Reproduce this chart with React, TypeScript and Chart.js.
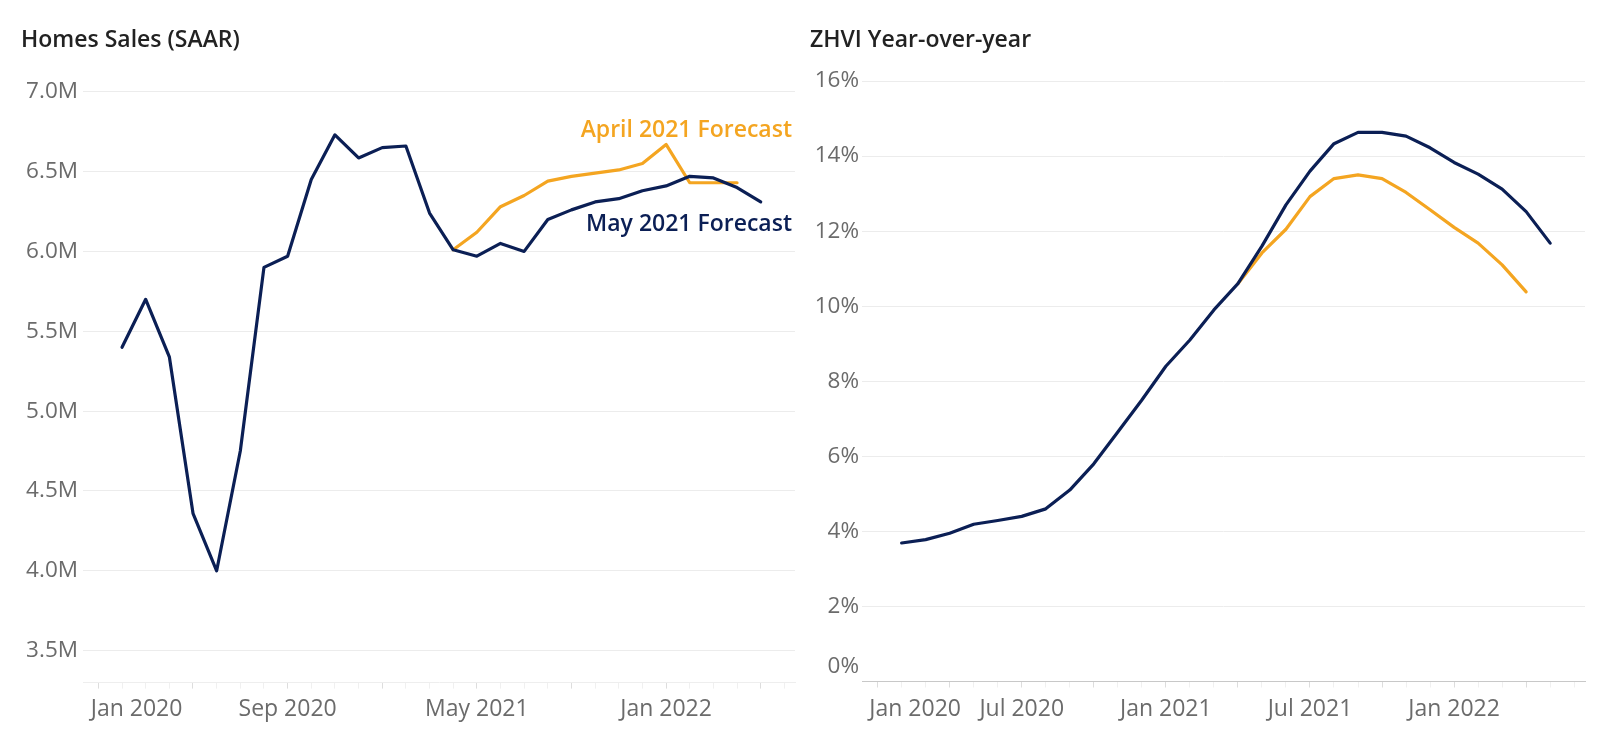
import React, { useEffect, useRef } from "react";
import { Chart, registerables } from "chart.js";

Chart.register(...registerables);

// ---------- Data ----------
const MONTHS = [
  "Jan 2020", "Feb 2020", "Mar 2020", "Apr 2020", "May 2020", "Jun 2020",
  "Jul 2020", "Aug 2020", "Sep 2020", "Oct 2020", "Nov 2020", "Dec 2020",
  "Jan 2021", "Feb 2021", "Mar 2021", "Apr 2021", "May 2021", "Jun 2021",
  "Jul 2021", "Aug 2021", "Sep 2021", "Oct 2021", "Nov 2021", "Dec 2021",
  "Jan 2022", "Feb 2022", "Mar 2022", "Apr 2022",
];

// Home sales, SAAR, millions
const SALES_MAY_FORECAST = [
  5.40, 5.70, 5.34, 4.36, 4.00, 4.75, 5.90, 5.97, 6.45, 6.73, 6.585, 6.65, 6.66, 6.24,
  6.01, 5.97, 6.05, 6.00, 6.20, 6.26, 6.31, 6.33, 6.38, 6.41, 6.47, 6.46, 6.40, 6.31,
];
const SALES_APRIL_FORECAST = [
  null, null, null, null, null, null, null, null, null, null, null, null, null, null,
  6.01, 6.12, 6.28, 6.35, 6.44, 6.47, 6.49, 6.51, 6.55, 6.67, 6.43, 6.43, 6.43, null,
];

// ZHVI year-over-year, %
const ZHVI_MAY_FORECAST = [
  3.69, 3.78, 3.95, 4.19, 4.29, 4.40, 4.60, 5.10, 5.80, 6.65, 7.50, 8.40, 9.10, 9.90,
  10.60, 11.60, 12.70, 13.60, 14.33, 14.63, 14.63, 14.53, 14.22, 13.83, 13.52, 13.12, 12.52, 11.68,
];
const ZHVI_APRIL_FORECAST = [
  null, null, null, null, null, null, null, null, null, null, null, null, null, null,
  10.60, 11.42, 12.05, 12.92, 13.40, 13.50, 13.40, 13.03, 12.57, 12.10, 11.68, 11.10, 10.38, null,
];

const SALES_Y_TICKS = [3.5, 4.0, 4.5, 5.0, 5.5, 6.0, 6.5, 7.0];
const ZHVI_Y_TICKS = [0, 2, 4, 6, 8, 10, 12, 14, 16];
const SALES_X_LABELS = ["Jan 2020", "Sep 2020", "May 2021", "Jan 2022"];
const ZHVI_X_LABELS = ["Jan 2020", "Jul 2020", "Jan 2021", "Jul 2021", "Jan 2022"];

const SERIES_NAMES = ["May 2021 Forecast", "April 2021 Forecast"];

// ---------- Style ----------
const NAVY = "#0b1f55";
const ORANGE = "#f4a521";
const GREY_TEXT = "#6b6b6b";
const TITLE_TEXT = "#222222";
const GRID = "#ececec";
const FONT = '"Open Sans", "Noto Sans", sans-serif';

type Spec = {
  title: string;
  titleX: number;
  may: (number | null)[];
  april: (number | null)[];
  yMin: number;
  yMax: number;
  yTicks: number[];
  yFormat: (v: number) => string;
  yWidth: number;
  yPad: number;
  padTop: number;
  padRight: number;
  xHeight: number;
  xLabels: string[];
  majorEvery: number;
  firstLabelShift: number;
  baselineColor: string;
  zeroLabel: boolean;
  annotations: boolean;
};

function toPoints(arr: (number | null)[]) {
  return arr
    .map((y, i) => (y == null ? null : { x: i + 1, y }))
    .filter((p) => p !== null) as { x: number; y: number }[];
}

function makeConfig(spec: Spec): any {
  const overlay = {
    id: "overlay",
    afterDraw(chart: any) {
      const ctx = chart.ctx;
      const xs = chart.scales.x;
      const ys = chart.scales.y;
      const area = chart.chartArea;
      ctx.save();
      // Title
      ctx.font = `600 23px ${FONT}`;
      ctx.fillStyle = TITLE_TEXT;
      ctx.textAlign = "left";
      ctx.textBaseline = "alphabetic";
      ctx.fillText(spec.title, spec.titleX, 47);

      // X labels
      ctx.font = `23px ${FONT}`;
      ctx.fillStyle = GREY_TEXT;
      spec.xLabels.forEach((lab, k) => {
        const px = xs.getPixelForValue(MONTHS.indexOf(lab));
        if (k === 0) {
          ctx.textAlign = "left";
          ctx.fillText(lab, px + spec.firstLabelShift, 716);
        } else {
          ctx.textAlign = "center";
          ctx.fillText(lab, px, 716);
        }
      });

      // Zero label lifted above the dotted baseline
      if (spec.zeroLabel) {
        ctx.font = `22.5px ${FONT}`;
        ctx.textAlign = "right";
        ctx.textBaseline = "middle";
        ctx.fillText("0%", area.left - spec.yPad, ys.getPixelForValue(0) - 15);
      }

      // Series annotations
      if (spec.annotations) {
        ctx.font = `600 23px ${FONT}`;
        ctx.textAlign = "right";
        ctx.textBaseline = "alphabetic";
        ctx.fillStyle = ORANGE;
        ctx.fillText(SERIES_NAMES[1], area.right - 3, 136.5);
        ctx.fillStyle = NAVY;
        ctx.fillText(SERIES_NAMES[0], area.right - 3, 231);
      }
      ctx.restore();
    },
  };

  return {
    type: "line",
    data: {
      datasets: [
        {
          label: SERIES_NAMES[0],
          data: toPoints(spec.may),
          borderColor: NAVY,
          borderWidth: 3.2,
          pointRadius: 0,
          tension: 0,
          borderJoinStyle: "round",
          borderCapStyle: "round",
        },
        {
          label: SERIES_NAMES[1],
          data: toPoints(spec.april),
          borderColor: ORANGE,
          borderWidth: 3.2,
          pointRadius: 0,
          tension: 0,
          borderJoinStyle: "round",
          borderCapStyle: "round",
        },
      ],
    },
    options: {
      animation: false,
      responsive: false,
      devicePixelRatio: 1,
      events: [],
      layout: {
        padding: { top: spec.padTop, right: spec.padRight, left: 0, bottom: 0 },
      },
      plugins: {
        legend: { display: false },
        tooltip: { enabled: false },
        title: { display: false },
      },
      scales: {
        x: {
          type: "linear",
          min: -0.65,
          max: 29.45,
          afterBuildTicks: (axis: any) => {
            const t = [];
            for (let v = 0; v <= 29; v++) t.push({ value: v });
            axis.ticks = t;
          },
          afterFit: (s: any) => {
            s.height = spec.xHeight;
          },
          ticks: { display: false, autoSkip: false },
          grid: {
            drawOnChartArea: false,
            drawTicks: true,
            tickLength: 6,
            lineWidth: 1,
            color: (c: any) =>
              c.tick && c.tick.value % spec.majorEvery === 0 ? "#dddddd" : "#f0f0f0",
          },
          border: { display: true, color: spec.baselineColor, width: 1, dash: [2, 2] },
        },
        y: {
          type: "linear",
          min: spec.yMin,
          max: spec.yMax,
          afterBuildTicks: (axis: any) => {
            axis.ticks = spec.yTicks.map((v) => ({ value: v }));
          },
          afterFit: (s: any) => {
            s.width = spec.yWidth;
          },
          ticks: {
            autoSkip: false,
            padding: spec.yPad,
            color: GREY_TEXT,
            font: { family: FONT, size: 22.5 },
            callback: (v: any) => spec.yFormat(Number(v)),
          },
          grid: {
            drawTicks: false,
            lineWidth: 1,
            color: (c: any) =>
              spec.zeroLabel && c.tick && c.tick.value === 0 ? "rgba(0,0,0,0)" : GRID,
          },
          border: { display: false },
        },
      },
    },
    plugins: [overlay],
  };
}

const LEFT_SPEC: Spec = {
  title: "Homes Sales (SAAR)",
  titleX: 21,
  may: SALES_MAY_FORECAST,
  april: SALES_APRIL_FORECAST,
  yMin: 3.3,
  yMax: 7.0,
  yTicks: SALES_Y_TICKS,
  yFormat: (v) => v.toFixed(1) + "M",
  yWidth: 83,
  yPad: 5,
  padTop: 91.7,
  padRight: 5,
  xHeight: 55.4,
  xLabels: SALES_X_LABELS,
  majorEvery: 4,
  firstLabelShift: -7.6,
  baselineColor: "#eeeeee",
  zeroLabel: false,
  annotations: true,
};

const RIGHT_SPEC: Spec = {
  title: "ZHVI Year-over-year",
  titleX: 10,
  may: ZHVI_MAY_FORECAST,
  april: ZHVI_APRIL_FORECAST,
  yMin: 0,
  yMax: 16,
  yTicks: ZHVI_Y_TICKS,
  yFormat: (v) => (v === 0 ? "" : v + "%"),
  yWidth: 62,
  yPad: 3,
  padTop: 81,
  padRight: 15,
  xHeight: 56.5,
  xLabels: ZHVI_X_LABELS,
  majorEvery: 3,
  firstLabelShift: -8.3,
  baselineColor: "#c8c8c8",
  zeroLabel: true,
  annotations: false,
};

function ChartPanel({ spec, left }: { spec: Spec; left: number }) {
  const ref = useRef<HTMLCanvasElement | null>(null);
  useEffect(() => {
    let chart: Chart | null = null;
    let cancelled = false;
    const build = () => {
      if (cancelled || !ref.current) return;
      chart = new Chart(ref.current, makeConfig(spec));
    };
    const fonts: any = (document as any).fonts;
    if (fonts && fonts.load) {
      Promise.all([
        fonts.load(`23px "Open Sans"`),
        fonts.load(`600 23px "Open Sans"`),
      ])
        .catch(() => null)
        .then(build);
    } else {
      build();
    }
    return () => {
      cancelled = true;
      if (chart) chart.destroy();
    };
  }, [spec]);
  return (
    <canvas
      ref={ref}
      width={800}
      height={738}
      style={{ position: "absolute", left, top: 0, width: 800, height: 738 }}
    />
  );
}

export default function App() {
  return (
    <div
      style={{
        position: "fixed",
        left: 0,
        top: 0,
        width: 1600,
        height: 738,
        background: "#ffffff",
        overflow: "hidden",
      }}
    >
      <ChartPanel spec={LEFT_SPEC} left={0} />
      <ChartPanel spec={RIGHT_SPEC} left={800} />
    </div>
  );
}
